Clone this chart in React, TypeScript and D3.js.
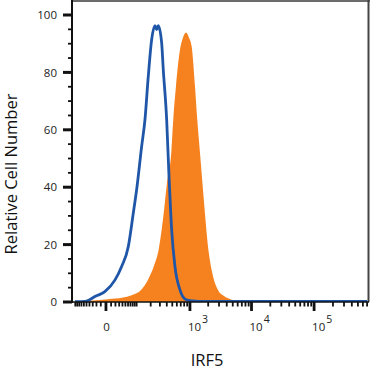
import * as d3 from "d3";

// isotype control (blue outline) – intensity vs relative count
const blueX = [-102, -56, -38, -24, -2, 19, 37, 61, 83, 100, 130, 153, 179, 209, 242, 261, 280, 323, 346, 398, 437, 488, 557, 679, 826, 1001, 1467, 5000, 50000, 700000];
const blueY = [0.1, 0.2, 0.9, 1.9, 3.6, 7.7, 12.3, 19.3, 31.0, 39.1, 54.2, 63.5, 78.6, 91.4, 96.3, 94.9, 96.3, 90.3, 80.9, 63.5, 44.3, 25.1, 12.3, 4.2, 1.0, 0.45, 0.25, 0.25, 0.25, 0.25];

// IRF5 stained (orange filled)
const orangeX = [-56, -12, 19, 72, 126, 176, 232, 288, 349, 403, 484, 520, 579, 679, 763, 858, 964, 1069, 1213, 1324, 1467, 1644, 1773, 2060, 2394, 2886, 3610, 4680, 6533, 9460];
const orangeY = [0.35, 0.7, 1.2, 2.3, 4.2, 7.7, 12.6, 18.8, 30.3, 41.5, 53.0, 63.5, 75.1, 87.9, 92.1, 93.9, 92.1, 89.0, 75.1, 63.5, 52.0, 39.1, 30.7, 16.7, 9.1, 4.2, 2.1, 0.9, 0.17, 0];

const yTicks = d3.range(0, 101, 5);
const yLabels = [0, 20, 40, 60, 80, 100];
const xMajor = [0, 1000, 10000, 100000];
const xLabels = [
  { v: 0, base: "0", exp: "" },
  { v: 1000, base: "10", exp: "3" },
  { v: 10000, base: "10", exp: "4" },
  { v: 100000, base: "10", exp: "5" },
];
const xMinor = [
  ...d3.range(10, 101, 10).map((d) => -d),
  ...d3.range(10, 100, 10),
  ...d3.range(100, 1000, 100),
  ...d3.range(2000, 10000, 1000),
  ...d3.range(20000, 100000, 10000),
  ...d3.range(200000, 800000, 100000),
];

const font = "'Open Sans', 'Noto Sans', sans-serif";

export default function App() {
  const left = 72;
  const right = 369;
  const base = 302;

  const x = d3.scaleSymlog().constant(48).domain([-119, 751000]).range([left, right]);
  const y = d3.scaleLinear().domain([0, 100]).range([base, 15]);

  const blue = blueX.map((v, i) => [v, blueY[i]] as [number, number]);
  const orange = orangeX.map((v, i) => [v, orangeY[i]] as [number, number]);

  const area = d3
    .area<[number, number]>()
    .x((d) => x(d[0]))
    .y0(y(0))
    .y1((d) => y(d[1]))
    .curve(d3.curveMonotoneX);

  const line = d3
    .line<[number, number]>()
    .x((d) => x(d[0]))
    .y((d) => y(d[1]))
    .curve(d3.curveMonotoneX);

  return (
    <svg width={370} height={372} style={{ position: "absolute", left: 0, top: 0, background: "#fff" }}>
      <defs>
        <clipPath id="plot">
          <rect x={left} y={0} width={right - left} height={base} />
        </clipPath>
      </defs>

      <g clipPath="url(#plot)">
        <path d={area(orange) ?? ""} fill="#F5821F" />
        <path d={line(blue) ?? ""} fill="none" stroke="#1F56A8" strokeWidth={2.8} />
      </g>

      {/* frame */}
      <line x1={left} x2={370} y1={1} y2={1} stroke="#6b6b6b" strokeWidth={2} />
      <line x1={368.5} x2={368.5} y1={0} y2={base} stroke="#444" strokeWidth={2} />
      <line x1={left} x2={right} y1={base} y2={base} stroke="#111" strokeWidth={1.6} />
      <line x1={left} x2={left} y1={0} y2={base + 1} stroke="#111" strokeWidth={2} />

      {/* y axis */}
      {yTicks.map((t) => {
        const major = t % 20 === 0;
        return (
          <line
            key={t}
            x1={major ? left - 9 : left - 4}
            x2={left}
            y1={y(t)}
            y2={y(t)}
            stroke="#111"
            strokeWidth={major ? 3 : 1.8}
          />
        );
      })}
      {yLabels.map((t) => (
        <text key={t} x={57} y={y(t)} dy="0.36em" textAnchor="end" fontSize={11.5} fontFamily={font} fill="#222">
          {t}
        </text>
      ))}

      {/* x axis */}
      {xMinor.map((t) => (
        <line key={"m" + t} x1={x(t)} x2={x(t)} y1={base} y2={base + 4.5} stroke="#111" strokeWidth={1.8} />
      ))}
      {xMajor.map((t) => (
        <line key={"M" + t} x1={x(t)} x2={x(t)} y1={base} y2={base + 9} stroke="#111" strokeWidth={2.8} />
      ))}
      {xLabels.map((l) =>
        l.exp ? (
          <text key={l.v} x={x(l.v) - 2} y={331} fontSize={11.5} fontFamily={font} fill="#222">
            {l.base}
            <tspan dx={1} dy={-8} fontSize={10.5}>
              {l.exp}
            </tspan>
          </text>
        ) : (
          <text key={l.v} x={x(l.v) + 0.5} y={331} textAnchor="middle" fontSize={11.5} fontFamily={font} fill="#222">
            {l.base}
          </text>
        )
      )}

      {/* axis titles */}
      <text x={207} y={366} textAnchor="middle" fontSize={16.5} fontFamily={font} fill="#111">
        IRF5
      </text>
      <text
        transform="translate(17,174) rotate(-90)"
        textAnchor="middle"
        fontSize={16.5}
        fontFamily={font}
        fill="#111"
      >
        Relative Cell Number
      </text>
    </svg>
  );
}
